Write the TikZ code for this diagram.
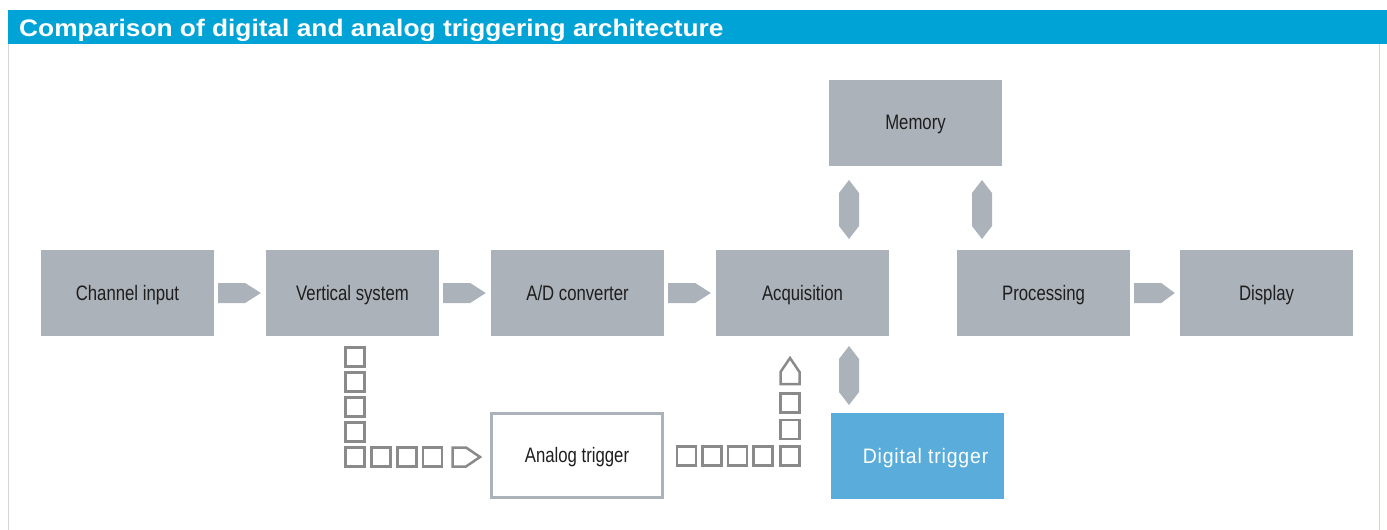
\documentclass[tikz,border=0pt]{standalone}
\usepackage{fontspec}
\setmainfont{Liberation Sans}
\newfontfamily\boxfont{Liberation Sans}[FakeStretch=0.80]
\newfontfamily\digfont{Liberation Sans}[FakeStretch=0.93,LetterSpace=4]
\newfontfamily\titlefont{Liberation Sans}[FakeStretch=1.10]
\usetikzlibrary{calc}
\definecolor{hdrblue}{RGB}{0,163,214}
\definecolor{boxgray}{RGB}{172,178,185}
\definecolor{digblue}{RGB}{90,173,219}
\definecolor{chaingray}{RGB}{138,138,138}
\definecolor{framegray}{RGB}{208,214,218}
\definecolor{txtdark}{RGB}{30,30,30}
\tikzset{
  boxtext/.style={text height=18bp, text depth=4bp, inner sep=0pt},
  blockbox/.style={boxtext, fill=boxgray, minimum width=173bp, minimum height=86bp,
    text=txtdark, font=\boxfont\fontsize{21}{21}\selectfont},
  openbox/.style={boxtext, draw=boxgray, line width=2.5bp, fill=white, minimum width=171bp, minimum height=84bp,
    text=txtdark, font=\boxfont\fontsize{21}{21}\selectfont},
  digbox/.style={boxtext, fill=digblue, minimum width=173bp, minimum height=86bp,
    text=white, font=\digfont\fontsize{21}{21}\selectfont},
  flowarrow/.style={fill=boxgray},
  sq/.style={draw=chaingray, line width=2.5bp, fill=white},
}
\begin{document}
\begin{tikzpicture}[x=1bp,y=-1bp]
\useasboundingbox (0,0) rectangle (1387,530);
% frame
\fill[hdrblue] (8,10) rectangle (1387,44);
\draw[framegray, line width=1.5bp] (8.5,44) -- (8.5,530);
\draw[framegray, line width=1.5bp] (1379.5,44) -- (1379.5,530);
\node[anchor=base west, inner sep=0pt, text=white, font=\titlefont\bfseries\fontsize{24}{24}\selectfont]
  (title) at (19,36.7) {Comparison of digital and analog triggering architecture};

% boxes
\node[blockbox] (ch)  at (127.5,293) {Channel input};
\node[blockbox] (vs)  at (352.5,293) {Vertical system};
\node[blockbox] (ad)  at (577.5,293) {A/D converter};
\node[blockbox] (acq) at (802.5,293) {Acquisition};
\node[blockbox] (pr)  at (1043.5,293) {Processing};
\node[blockbox] (di)  at (1266.5,293) {Display};
\node[blockbox] (mem) at (915.5,123) {Memory};
\node[openbox]  (at)  at (577,455.5) {Analog trigger};
\node[digbox]   (dt)  at (917.5,456) {\hspace*{16bp}Digital trigger};

% right block arrows
\foreach \a/\b in {ch/vs, vs/ad, ad/acq, pr/di}{
  \fill[flowarrow] ($(\a.east)+(4,-10)$) -- ($(\a.east)+(31,-10)$) -- ($(\b.west)+(-5,0)$)
     -- ($(\a.east)+(31,10)$) -- ($(\a.east)+(4,10)$) -- cycle;
}
% vertical double arrows
\foreach \x in {849,982}{
  \fill[flowarrow] (\x,180) -- (\x+10,193) -- (\x+10,226) -- (\x,239) -- (\x-10,226) -- (\x-10,193) -- cycle;
}
\fill[flowarrow] (849,346) -- (859,359) -- (859,392) -- (849,405) -- (839,392) -- (839,359) -- cycle;

% analog chain left (from vertical system to analog trigger)
\foreach \y in {357,382,407,432,457}{
  \draw[sq] (345.5,\y-9.5) rectangle (364.5,\y+9.5);
}
\foreach \x in {381,407,432.5}{
  \draw[sq] (\x-9.5,447.5) rectangle (\x+9.5,466.5);
}
\draw[sq, line join=miter] (452.5,447.5) -- (466,447.5) -- (480,457) -- (466,466.5) -- (452.5,466.5) -- cycle;

% analog chain right (from analog trigger to acquisition)
\foreach \x in {686.5,712,737.5,763}{
  \draw[sq] (\x-9.5,446.5) rectangle (\x+9.5,465.5);
}
\foreach \y in {456,429.5,403}{
  \draw[sq] (780.5,\y-9.5) rectangle (799.5,\y+9.5);
}
\draw[sq, line join=miter] (780.5,384) -- (780.5,372) -- (790,358) -- (799.5,372) -- (799.5,384) -- cycle;
\end{tikzpicture}
\end{document}
